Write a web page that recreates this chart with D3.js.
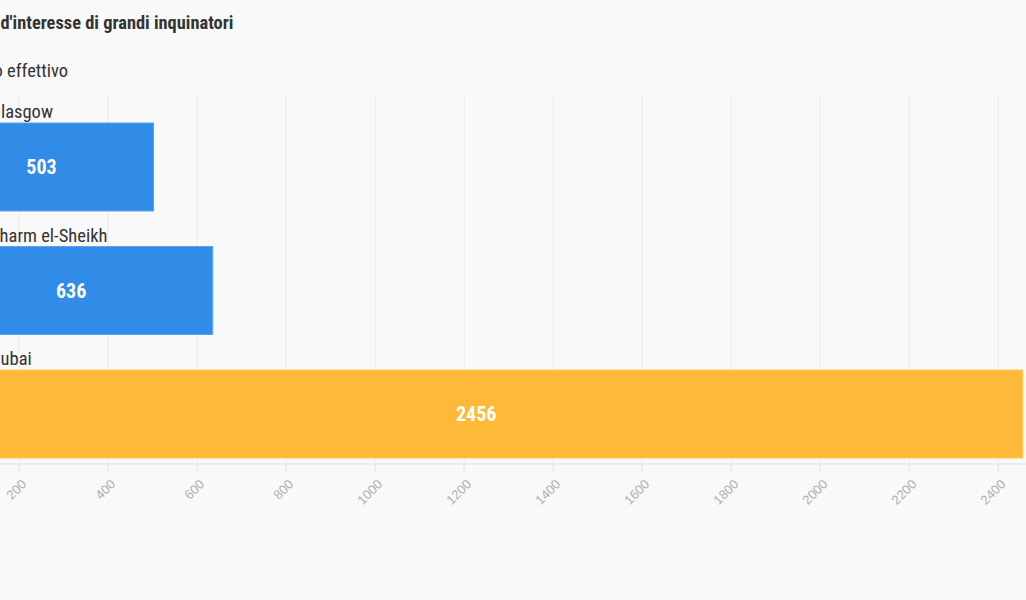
<!DOCTYPE html>
<html>
<head>
<meta charset="utf-8">
<script src="https://cdn.jsdelivr.net/npm/d3@7"></script>
<style>
  html, body { margin: 0; padding: 0; background: #f9f9f9; overflow: hidden; }
  svg { display: block; font-family: 'Roboto Condensed', Roboto, sans-serif; }
  .grid line { stroke: #ebebeb; stroke-width: 1; }
  .x-axis .domain { stroke: #ececec; stroke-width: 2; }
  .x-axis .tick line { stroke: #ececec; stroke-width: 2; }
  .x-axis .tick text { fill: #b0b0b0; font-size: 13px; }
  .cat-label { fill: #333; font-size: 18.5px; }
  .value-label { fill: #fff; font-size: 20px; font-weight: bold; }
</style>
</head>
<body>
<div id="chart"></div>
<script>
const titleText = "Voli privati verso luoghi d'interesse di grandi inquinatori";
const titleVisible = "d'interesse di grandi inquinatori";
const subtitleText = 'Dato effettivo';
const subtitleVisible = 'effettivo';
const categories = ['Glasgow', 'Sharm el-Sheikh', 'Dubai'];
const values = [503, 636, 2456];
const highlight = [false, false, true];
const tickValues = [0, 200, 400, 600, 800, 1000, 1200, 1400, 1600, 1800, 2000, 2200, 2400];

const width = 1026;
const height = 600;
// the chart is wider than the window, its left edge sits off screen
const plot = {left: -70.4, right: 997.8, top: 94, bottom: 464};

const svg = d3.select('#chart').append('svg')
  .attr('width', width)
  .attr('height', height);

const x = d3.scaleLinear()
  .domain([0, 2400])
  .range([plot.left, plot.right]);

const y = d3.scaleBand()
  .domain(categories)
  .range([123, 458])
  .paddingInner(35.5 / 123.5)
  .paddingOuter(0);

// Place a text so that its visible tail starts at a given x
function placeTail (sel, full, tail, startX) {
  const cut = sel.node().getSubStringLength(0, full.length - tail.length);
  sel.attr('x', startX - cut);
}

const title = svg.append('text')
  .attr('y', 29)
  .attr('fill', '#333')
  .style('font-size', '18.4px')
  .style('font-weight', 'bold')
  .text(titleText);
placeTail(title, titleText, titleVisible, 0.5);

const subtitle = svg.append('text')
  .attr('y', 77)
  .attr('fill', '#333')
  .style('font-size', '18.5px')
  .text(subtitleText);
placeTail(subtitle, subtitleText, subtitleVisible, 7);

// Grid lines
svg.append('g')
  .attr('class', 'grid')
  .selectAll('line')
  .data(tickValues)
  .join('line')
  .attr('x1', d => x(d) + 0.5)
  .attr('x2', d => x(d) + 0.5)
  .attr('y1', plot.top)
  .attr('y2', plot.bottom);

// Axis
const xAxis = svg.append('g')
  .attr('class', 'x-axis')
  .attr('transform', 'translate(0,' + plot.bottom + ')')
  .call(d3.axisBottom(x).tickValues(tickValues).tickFormat(d3.format('d'))
    .tickSize(8).tickSizeOuter(0).tickPadding(4));

xAxis.select('.domain').attr('d', 'M' + plot.left + ',0H' + width);

xAxis.selectAll('.tick text')
  .attr('text-anchor', 'end')
  .attr('dy', null)
  .attr('y', 0)
  .attr('transform', 'translate(8,21) rotate(-45)');

// Bars
const rows = svg.append('g')
  .selectAll('g.row')
  .data(categories.map((c, i) => ({name: c, value: values[i], hi: highlight[i]})))
  .join('g')
  .attr('class', 'row');

rows.append('rect')
  .attr('x', x(0))
  .attr('y', d => y(d.name))
  .attr('width', d => x(d.value) - x(0))
  .attr('height', y.bandwidth())
  .attr('fill', d => d.hi ? '#ffb938' : '#318ce8')
  .attr('stroke', d => d.hi ? '#ffc75c' : '#5aa3ee')
  .attr('stroke-width', 1);

rows.append('text')
  .attr('class', 'cat-label')
  .attr('x', -10)
  .attr('y', d => y(d.name) - 5)
  .text(d => d.name);

rows.append('text')
  .attr('class', 'value-label')
  .attr('text-anchor', 'middle')
  .attr('x', d => (x(0) + x(d.value)) / 2)
  .attr('y', d => y(d.name) + y.bandwidth() / 2 + 7)
  .text(d => d.value);
</script>
</body>
</html>
